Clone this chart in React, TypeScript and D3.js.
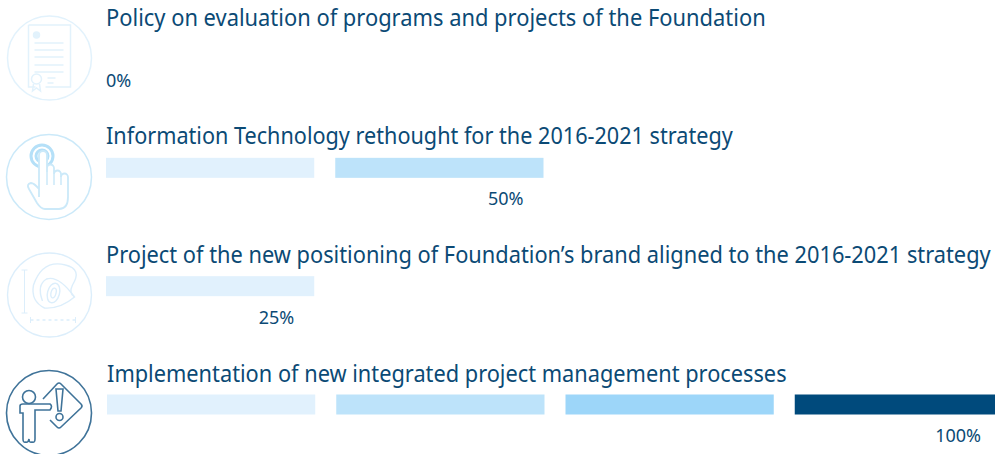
import * as d3 from "d3";

const titles = [
  "Policy on evaluation of programs and projects of the Foundation",
  "Information Technology rethought for the 2016-2021 strategy",
  "Project of the new positioning of Foundation’s brand aligned to the 2016-2021 strategy",
  "Implementation of new integrated project management processes",
];
const progress = [0, 50, 25, 100];
const steps = [25, 50, 75, 100];
const stepColors = ["#e1f1fd", "#bde3fa", "#9dd6f9", "#004a7c"];

const NAVY = "#0b4a75";
const FONT = "'Noto Sans', 'Open Sans', sans-serif";
// rendered widths of the titles, the original face is narrower than Noto Sans
const titleWidths = [660, 627, 885, 680];

const rowScale = d3.scalePoint<number>().domain([0, 1, 2, 3]).range([26, 381]);
const segScale = d3
  .scaleBand<number>()
  .domain(steps)
  .range([106, 1002])
  .paddingInner(0.0916);

function DocIcon() {
  return (
    <g fill="none" stroke="#e2f2fc" strokeWidth={1.5}>
      <circle r={42} />
      <path d="M-21,-33 H21 V29 H-4 M-14,29 H-21 V-33" />
      <circle cx={-13} cy={-23} r={3} fill="#e2f2fc" />
      <path d="M-15,-15 H14 M-15,-8 H14 M-15,-1 H14 M-15,7 H14 M-15,14 H14 M-2,20 H6 M-2,25 H4" />
      <circle cx={-13} cy={21} r={5} />
      <path d="M-16,26 L-17,33 L-13,30 L-9,33 L-10,26" />
    </g>
  );
}

function HandIcon() {
  return (
    <g fill="none" stroke="#cbe9f9" strokeWidth={1.5}>
      <circle r={42.5} />
      <circle cx={-7} cy={-21} r={11} strokeWidth={3} stroke="#b5e0f8" />
      <circle cx={-7} cy={-21} r={6} strokeWidth={3} stroke="#b5e0f8" />
      <path
        d="M-10,20 L-10,-22 A4,4 0 0 1 -2,-22 L-2,-5 V-9 A3.5,3.5 0 0 1 5,-9 V-3 A3.5,3.5 0 0 1 12,-3 V0 A3.5,3.5 0 0 1 19,0 V20 Q19,32 10,32 H-4 Q-8,32 -12,26 L-20,12 Q-23,7 -18,6 Q-15,6 -10,12"
        fill="#fff"
        strokeWidth={1.8}
      />
      <path d="M-2,-5 V8 M5,-3 V8 M12,-1 V8" />
    </g>
  );
}

function EyeIcon() {
  return (
    <g fill="none" stroke="#dceefb" strokeWidth={1.4}>
      <circle r={42} />
      <path d="M-28,-25 H-22 M-25,-25 V18 M-28,18 H-22" strokeWidth={1} />
      <path d="M-19,25 H26" strokeDasharray="3 3" />
      <path d="M-19,22 V28 M26,22 V28" strokeWidth={1} />
      <g transform="translate(1,-6)">
        <path d="M-17,-4 Q-8,-30 15,-24 Q32,-20 22,-4 Q18,4 24,8 Q10,20 -6,19 Q-20,12 -17,-4 Z" />
        <path d="M-8,12 Q-14,-4 -4,-10 Q8,-14 24,8" />
        <ellipse cx={3} cy={4} rx={6} ry={10} transform="rotate(15 3 4)" />
        <ellipse cx={3} cy={4} rx={2.5} ry={5} transform="rotate(15 3 4)" />
      </g>
    </g>
  );
}

function TeacherIcon() {
  return (
    <g fill="none" stroke="#3f7399" strokeWidth={1.6}>
      <circle r={42.5} />
      <circle cx={-20} cy={-16} r={6.5} />
      <path d="M-29,-4 V-7 Q-29,-9 -26,-9 H-14 L1,-9 Q4,-7 1,-3 H-14 V26 Q-14,30 -17,29 Q-20,30 -20,26 Q-21,30 -23,29 Q-26,30 -26,26 V0 H-29 Z" />
      <path d="M-6,-14 L8,-29 Q10,-31 12,-29 L32,-9 Q34,-7 32,-5 L12,14 Q10,16 8,14 L1,7" />
      <path d="M7,-24 H14 L12,-2 H9 Z" />
      <circle cx={10.5} cy={4} r={3.5} />
    </g>
  );
}

const icons = [
  { cx: 49.5, cy: 58, el: <DocIcon /> },
  { cx: 49, cy: 177, el: <HandIcon /> },
  { cx: 49.5, cy: 295, el: <EyeIcon /> },
  { cx: 49, cy: 413, el: <TeacherIcon /> },
];

export default function App() {
  return (
    <svg
      width={995}
      height={454}
      style={{ position: "absolute", left: 0, top: 0, background: "#fff" }}
      fontFamily={FONT}
    >
      {titles.map((title, i) => {
        const base = rowScale(i)!;
        const dx = i === 3 ? 1 : 0;
        const pct = progress[i];
        const done = steps.filter((s) => s <= pct);
        const end = pct > 0 ? segScale(pct)! + segScale.bandwidth() : 0;
        return (
          <g key={title}>
            <g transform={`translate(${icons[i].cx},${icons[i].cy})`}>{icons[i].el}</g>
            <text
              ref={(el) => {
                if (!el) return;
                // squeeze to the measured width
                const sx = titleWidths[i] / el.getComputedTextLength();
                d3.select(el).attr(
                  "transform",
                  `translate(${106 + dx},${base + dx}) scale(${sx},1)`
                );
              }}
              fontSize={23.5}
              fill={NAVY}
            >
              {title}
            </text>
            {done.map((s) => (
              <rect
                key={s}
                x={segScale(s)! + dx}
                y={base + 13.5}
                width={segScale.bandwidth()}
                height={20}
                fill={stepColors[steps.indexOf(s)]}
              />
            ))}
            <text
              x={pct > 0 ? end - 20 - dx : 106}
              y={base + 61}
              fontSize={18}
              fill={NAVY}
              textAnchor={pct > 0 ? "end" : "start"}
            >
              {pct}%
            </text>
          </g>
        );
      })}
    </svg>
  );
}
